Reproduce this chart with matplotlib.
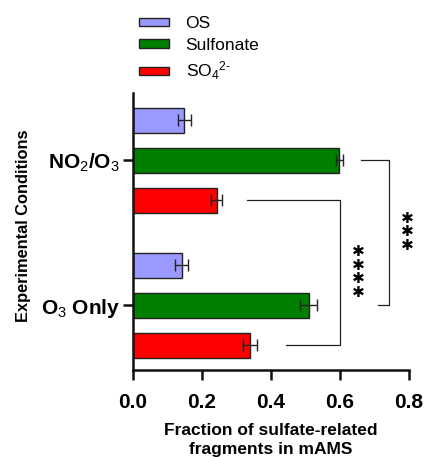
import matplotlib
matplotlib.use("Agg")
import matplotlib.pyplot as plt
import numpy as np
from matplotlib.patches import Patch

plt.rcParams["font.family"] = ["Liberation Sans", "DejaVu Sans"]
plt.rcParams["mathtext.fontset"] = "custom"
plt.rcParams["mathtext.rm"] = "Liberation Sans"
plt.rcParams["mathtext.it"] = "Liberation Sans:italic"
plt.rcParams["mathtext.bf"] = "Liberation Sans:bold"

# data
conditions = ["O$_3$ Only", "NO$_2$/O$_3$"]
species = ["OS", "Sulfonate", r"SO$_4$$^{2\text{-}}$"]
colors = ["#9999FF", "#007F00", "#FF0000"]
os_frac = [0.141, 0.149]
os_err = [0.019, 0.019]
sulfonate_frac = [0.509, 0.598]
sulfonate_err = [0.024, 0.010]
so4_frac = [0.339, 0.243]
so4_err = [0.021, 0.016]

values = [os_frac, sulfonate_frac, so4_frac]
errors = [os_err, sulfonate_err, so4_err]

fig = plt.figure(figsize=(4.24, 4.57), dpi=100)
ax = fig.add_axes([0.3137, 0.1904, 0.651, 0.606])

group_centers = np.array([1.0, 4.625])
offsets = [1, 0, -1]  # OS on top, sulfonate middle, sulfate bottom
for vals, errs, col, off in zip(values, errors, colors, offsets):
    ax.barh(group_centers + off, vals, height=0.625, color=col,
            edgecolor="#222222", linewidth=1.0, zorder=2)
    ax.errorbar(vals, group_centers + off, xerr=errs, fmt="none",
                ecolor="#222222", elinewidth=1.0, capsize=4.5, capthick=1.0,
                zorder=3)

ax.set_xlim(0, 0.8)
ax.set_ylim(-0.62, 6.31)
ax.set_xticks([0.0, 0.2, 0.4, 0.6, 0.8])
ax.set_xticklabels(["0.0", "0.2", "0.4", "0.6", "0.8"])
ax.set_yticks(group_centers)
ax.set_yticklabels(conditions)
for lab in ax.get_xticklabels() + ax.get_yticklabels():
    lab.set_fontweight("bold")
    lab.set_fontsize(15)
ax.tick_params(axis="both", width=1.8, length=7.5, color="#111111")
ax.tick_params(axis="x", pad=9)
ax.tick_params(axis="y", pad=2)

for s in ["top", "right"]:
    ax.spines[s].set_visible(False)
for s in ["left", "bottom"]:
    ax.spines[s].set_linewidth(1.8)
    ax.spines[s].set_color("#111111")

ax.set_xlabel("Fraction of sulfate-related\nfragments in mAMS",
              fontsize=12.5, fontweight="bold", labelpad=8, linespacing=1.3)
ax.set_ylabel("Experimental Conditions", fontsize=11.8, fontweight="bold")
ax.yaxis.set_label_coords(-0.37, 0.52)

# significance brackets
y_sulf = group_centers + offsets[1]
y_so4 = group_centers + offsets[2]
ax.plot([0.66, 0.743, 0.743, 0.709], [y_sulf[1], y_sulf[1], y_sulf[0], y_sulf[0]],
        color="#222222", lw=0.9, clip_on=False)
ax.plot([0.33, 0.60, 0.60, 0.443], [y_so4[1], y_so4[1], y_so4[0], y_so4[0]],
        color="#222222", lw=0.9, clip_on=False)


def stars(x, y, n):
    pitch = 9.9  # points between stars
    for i in range(n):
        dy = (i - (n - 1) / 2) * pitch
        ax.annotate("\u2731", (x, y), xytext=(0, dy), textcoords="offset points",
                    ha="center", va="center", fontsize=11, family="DejaVu Sans",
                    annotation_clip=False)


stars(0.794, 2.835, 3)
stars(0.652, 1.835, 4)

handles = [Patch(facecolor=c, edgecolor="#222222", linewidth=1.0) for c in colors]
fig.legend(handles, species, loc="upper left", bbox_to_anchor=(0.327, 0.965),
           frameon=False, fontsize=12.5, handlelength=1.75, handleheight=0.38,
           handletextpad=0.95, labelspacing=0.4, borderpad=0, borderaxespad=0)

fig.savefig("out.png", dpi=100)
